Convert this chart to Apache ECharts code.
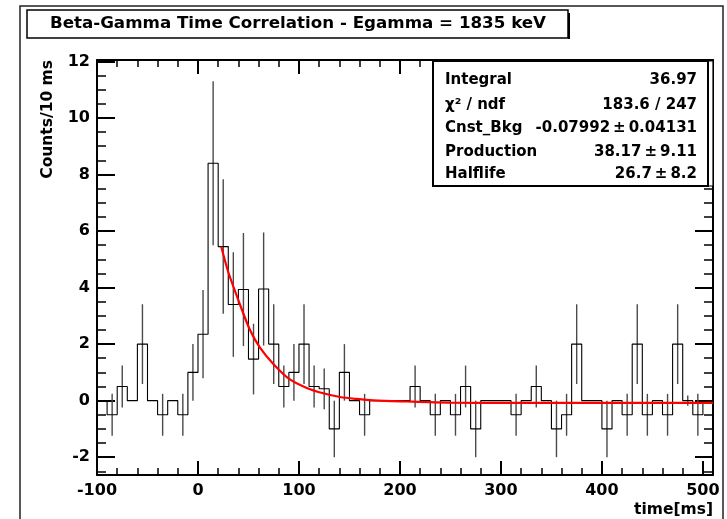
<!DOCTYPE html>
<html>
<head>
<meta charset="utf-8">
<script src="https://cdn.jsdelivr.net/npm/echarts@6/dist/echarts.min.js"></script>
<style>
html,body{margin:0;padding:0;background:#fff;}
#chart{width:727px;height:519px;}
</style>
</head>
<body>
<div id="chart"></div>
<script>
// ---- data ----
const binLow = [-100,-90,-80,-70,-60,-50,-40,-30,-20,-10,
  0,10,20,30,40,50,60,70,80,90,
  100,110,120,130,140,150,160,170,180,190,
  200,210,220,230,240,250,260,270,280,290,
  300,310,320,330,340,350,360,370,380,390,
  400,410,420,430,440,450,460,470,480,490,500];
const binHigh = 510;
const counts = [0,-0.5,0.5,0,2.0,0,-0.5,0,-0.5,1.0,
  2.35,8.4,5.45,3.4,3.93,1.47,3.95,2.0,0.5,1.0,
  2.0,0.5,0.42,-1.0,1.0,0,-0.5,0,0,0,
  0,0.5,0,-0.5,0,-0.5,0.5,-1.0,0,0,
  0,-0.5,0,0.5,0,-1.0,-0.5,2.0,0,0,
  -1.0,0,-0.5,2.0,-0.5,0,-0.5,2.0,0,-0.5,0];
const errors = [0,0.74,0.74,0,1.41,0,0.74,0,0.74,1.0,
  1.56,2.9,2.38,1.85,2.0,1.25,2.0,1.41,0.74,1.0,
  1.41,0.74,0.72,1.0,1.0,0,0.74,0,0,0,
  0,0.74,0,0.74,0,0.74,0.74,1.0,0,0,
  0,0.74,0,0.74,0,1.0,0.74,1.41,0,0,
  1.0,0,0.74,1.41,0.74,0,0.74,1.41,0.18,0.74,0];
const fitT = [23,30,41.6,51.5,61.4,74.6,91,107.7,124,140.6,157,173.6,206.7,250,300,400,510];
const fitY = [5.45,4.55,3.4,2.5,1.88,1.3,0.75,0.45,0.26,0.13,0.06,0.01,-0.03,-0.07,-0.08,-0.08,-0.08];
const xMajor = [-100,0,100,200,300,400,500];
const xMinor = [-80,-60,-40,-20,20,40,60,80,120,140,160,180,220,240,260,280,320,340,360,380,420,440,460,480];
const yMajor = [-2,0,2,4,6,8,10,12];
const yMinor = [-2.5,-1.5,-1,-0.5,0.5,1,1.5,2.5,3,3.5,4.5,5,5.5,6.5,7,7.5,8.5,9,9.5,10.5,11,11.5];
const titleText = 'Beta-Gamma Time Correlation - Egamma = 1835 keV';
const statLabels = ['Integral','\u03c7\u00b2 / ndf','Cnst_Bkg','Production','Halflife'];
const statValues = ['36.97','183.6 / 247','-0.07992\u2009\u00b1\u20090.04131','38.17\u2009\u00b1\u20099.11','26.7\u2009\u00b1\u20098.2'];
const yTitle = 'Counts/10 ms';
const xTitle = 'time[ms]';

// ---- build ----
const histData = binLow.map((x,i)=>[x,counts[i]]);
histData.push([binHigh, counts[counts.length-1]]);
const errData = [];
binLow.forEach((x,i)=>{
  if (errors[i] > 0) {
    const hi = (i+1 < binLow.length) ? binLow[i+1] : binHigh;
    errData.push([(x+hi)/2, counts[i]-errors[i], counts[i]+errors[i]]);
  }
});
const fitData = fitT.map((t,i)=>[t,fitY[i]]);

const FONT = '"DejaVu Sans", Arial, sans-serif';
const XMIN=-100, XMAX=510, YMIN=-2.63, YMAX=12.05;
const tickStyle = {color:'#000', width:2};
const minorStyle = {color:'#000', width:1.5};

function xAx(pos, major, labels){
  return {
    type:'value', min:XMIN, max:XMAX, position:pos, splitLine:{show:false},
    axisLine:{show:major, onZero:false, lineStyle:{color:'#000', width:2}},
    axisTick:{show:true, inside:true, length: major?14:7, customValues: major?xMajor:xMinor, lineStyle: major?tickStyle:minorStyle},
    axisLabel:{show:labels, customValues:xMajor, color:'#000', fontFamily:FONT, fontWeight:'bold', fontSize:16, margin:8}
  };
}
function yAx(pos, major, labels){
  return {
    type:'value', min:YMIN, max:YMAX, position:pos, splitLine:{show:false},
    axisLine:{show:major, onZero:false, lineStyle:{color:'#000', width:2}},
    axisTick:{show:true, inside:true, length: major?18:9, customValues: major?yMajor:yMinor, lineStyle: major?tickStyle:minorStyle},
    axisLabel:{show:labels, customValues:yMajor, color:'#000', fontFamily:FONT, fontWeight:'bold', fontSize:16, margin:7}
  };
}

const chart = echarts.init(document.getElementById('chart'), null, {renderer:'canvas'});
const statsGraphics = [];
const rowY = [80,105,128,152,174];
statLabels.forEach((l,i)=>{
  statsGraphics.push({type:'text', x:445, y:rowY[i], z:101,
    style:{text:l, font:'bold 15px '+FONT, fill:'#000', verticalAlign:'middle'}});
  statsGraphics.push({type:'text', x:697, y:rowY[i], z:101,
    style:{text:statValues[i], font:'bold 15px '+FONT, fill:'#000', align:'right', verticalAlign:'middle'}});
});

chart.setOption({
  animation:false,
  backgroundColor:'#fff',
  grid:{left:97, right:14, top:60, bottom:44, show:false},
  xAxis:[xAx('bottom',true,true), xAx('bottom',false,false), xAx('top',true,false), xAx('top',false,false)],
  yAxis:[yAx('left',true,true), yAx('left',false,false), yAx('right',true,false), yAx('right',false,false)],
  series:[
    {type:'line', data:histData, step:'end', symbol:'none', xAxisIndex:0, yAxisIndex:0,
     lineStyle:{color:'#000', width:1.1}, z:3},
    {type:'custom', data:errData, xAxisIndex:0, yAxisIndex:0, clip:true, z:2,
     renderItem:function(params, api){
       const p1 = api.coord([api.value(0), api.value(1)]);
       const p2 = api.coord([api.value(0), api.value(2)]);
       return {type:'line', shape:{x1:p1[0],y1:p1[1],x2:p2[0],y2:p2[1]},
               style:{stroke:'#4a4a4a', lineWidth:1.4}};
     }},
    {type:'line', data:fitData, smooth:0.3, symbol:'none', xAxisIndex:0, yAxisIndex:0,
     lineStyle:{color:'#ff0000', width:2.2}, z:4}
  ],
  graphic:[
    {type:'rect', shape:{x:20, y:6, width:703, height:530}, z:0, silent:true,
     style:{fill:'none', stroke:'#222', lineWidth:1.5}},
    {type:'rect', shape:{x:27, y:10, width:541, height:28}, z:100,
     style:{fill:'#fff', stroke:'#000', lineWidth:1.5}},
    {type:'rect', shape:{x:568, y:13, width:2, height:26}, z:100,
     style:{fill:'#000'}},
    {type:'text', x:298, y:24, z:101,
     style:{text:titleText, font:'bold 16.7px '+FONT, fill:'#000', align:'center', verticalAlign:'middle'}},
    {type:'rect', shape:{x:708, y:61, width:5, height:125}, z:99,
     style:{fill:'#fff', stroke:'#000', lineWidth:1.2}},
    {type:'rect', shape:{x:433, y:61, width:275, height:125}, z:100,
     style:{fill:'#fff', stroke:'#000', lineWidth:2}},
    ...statsGraphics,
    {type:'text', x:48, y:60, rotation:Math.PI/2, z:101,
     style:{text:yTitle, font:'bold 15.5px '+FONT, fill:'#000', align:'right', verticalAlign:'middle'}},
    {type:'text', x:713, y:510, z:101,
     style:{text:xTitle, font:'bold 15.5px '+FONT, fill:'#000', align:'right', verticalAlign:'middle'}}
  ]
});
</script>
</body>
</html>
